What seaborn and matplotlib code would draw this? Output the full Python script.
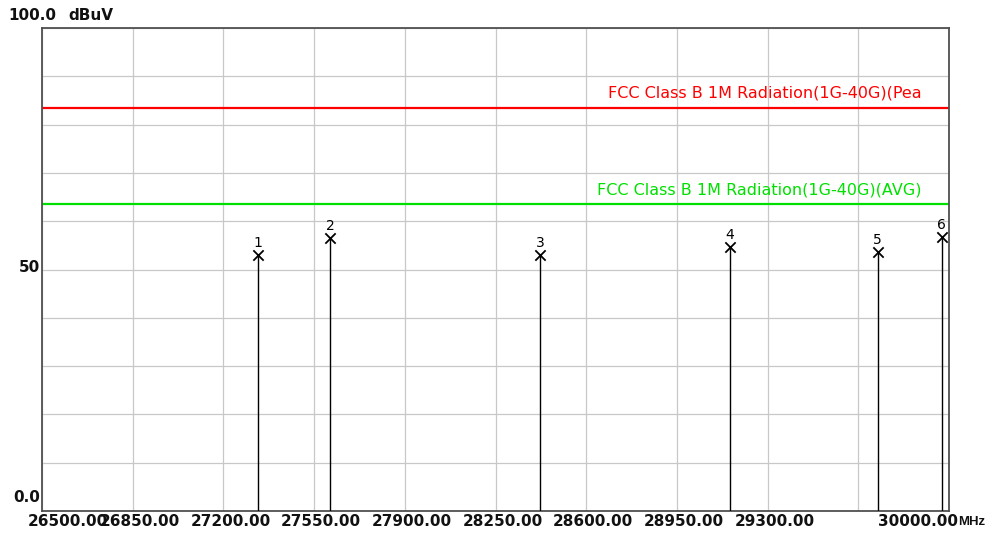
import matplotlib
matplotlib.use("Agg")
import matplotlib.pyplot as plt
import seaborn as sns
import pandas as pd

# Measured emission peaks (frequency in MHz, level in dBuV)
marker_ids = ["1", "2", "3", "4", "5", "6"]
freqs_mhz = [27334, 27612, 28422, 29153, 29725, 29972]
levels_dbuv = [53.0, 56.5, 53.0, 54.7, 53.7, 56.8]

# Limit lines
limit_names = ["FCC Class B 1M Radiation(1G-40G)(Pea", "FCC Class B 1M Radiation(1G-40G)(AVG)"]
limit_values = [83.5, 63.5]
limit_colors = ["#ff0000", "#00e000"]

# Axis ticks
x_ticks = [26500, 26850, 27200, 27550, 27900, 28250, 28600, 28950, 29300, 29650, 30000]
x_tick_labels = ["26500.00", "26850.00", "27200.00", "27550.00", "27900.00",
                 "28250.00", "28600.00", "28950.00", "29300.00", "", "30000.00"]
x_unit = "MHz"
y_grid = [0, 10, 20, 30, 40, 50, 60, 70, 80, 90, 100]

sns.set_style("white")
plt.rcParams["font.family"] = ["DejaVu Sans"]

W, H = 988, 539
fig = plt.figure(figsize=(W / 100, H / 100), dpi=100)
L, R, T, B = 42, 949, 28, 511
ax = fig.add_axes([L / W, 1 - B / H, (R - L) / W, (B - T) / H])
ax.set_xlim(26500, 30000)
ax.set_ylim(0, 100)

# grid
for xv in x_ticks:
    ax.axvline(xv, color="#c8c8c8", lw=0.9, zorder=0)
for yv in y_grid:
    ax.axhline(yv, color="#c8c8c8", lw=0.9, zorder=0)

for sp in ax.spines.values():
    sp.set_color("#505050")
    sp.set_linewidth(1.3)
ax.set_xticks([])
ax.set_yticks([])

# limit lines with labels
for name, val, col in zip(limit_names, limit_values, limit_colors):
    ax.axhline(val, color=col, lw=1.6, zorder=2)
    ax.annotate(name, (0.97, val), xycoords=ax.get_yaxis_transform(),
                xytext=(0, 5), textcoords="offset points",
                color=col, fontsize=11.5, ha="right", va="bottom", zorder=3)

# peak stems and markers
df = pd.DataFrame({"freq": freqs_mhz, "level": levels_dbuv, "id": marker_ids})
ax.vlines(df["freq"], 0, df["level"], color="black", lw=1.0, zorder=3)
sns.scatterplot(data=df, x="freq", y="level", marker="x", s=55, color="black",
                linewidth=1.3, ax=ax, zorder=4, legend=False)
for f, lv, mid in zip(df["freq"], df["level"], df["id"]):
    ax.annotate(mid, (f, lv), xytext=(0, 3.5), textcoords="offset points",
                ha="center", va="bottom", fontsize=10, color="black")
ax.set_xlabel("")
ax.set_ylabel("")

# x tick labels, placed in pixel offsets below the axis
tick_font = dict(fontsize=11, fontweight="bold", color="#111111")
trans_x = ax.get_xaxis_transform()
px = 72 / 100  # pixels -> points
for xv, lab in zip(x_ticks, x_tick_labels):
    if not lab:
        continue
    if xv == x_ticks[0]:
        ax.annotate(lab, (xv, 0), xycoords=trans_x, xytext=(-14 * px, -11 * px),
                    textcoords="offset points", ha="left", va="center", **tick_font)
    elif xv == x_ticks[-1]:
        ax.annotate(lab, (xv, 0), xycoords=trans_x, xytext=(-71 * px, -11 * px),
                    textcoords="offset points", ha="left", va="center", **tick_font)
    else:
        ax.annotate(lab, (xv, 0), xycoords=trans_x, xytext=(7 * px, -11 * px),
                    textcoords="offset points", ha="center", va="center", **tick_font)
# frequency unit after the last label
ax.annotate(x_unit, (x_ticks[-1], 0), xycoords=trans_x, xytext=(9 * px, -11 * px),
            textcoords="offset points", ha="left", va="center",
            fontsize=9.5, fontweight="bold", color="#111111",
            family=["Liberation Sans", "DejaVu Sans"])

# y labels
fig.text(8 / W, 1 - 15 / H, "100.0", ha="left", va="center", **tick_font)
fig.text(68 / W, 1 - 15 / H, "dBuV", ha="left", va="center", **tick_font)
fig.text(40 / W, 1 - 268 / H, "50", ha="right", va="center", **tick_font)
fig.text(40 / W, 1 - 497 / H, "0.0", ha="right", va="center", **tick_font)

fig.savefig("out.png", dpi=100)
